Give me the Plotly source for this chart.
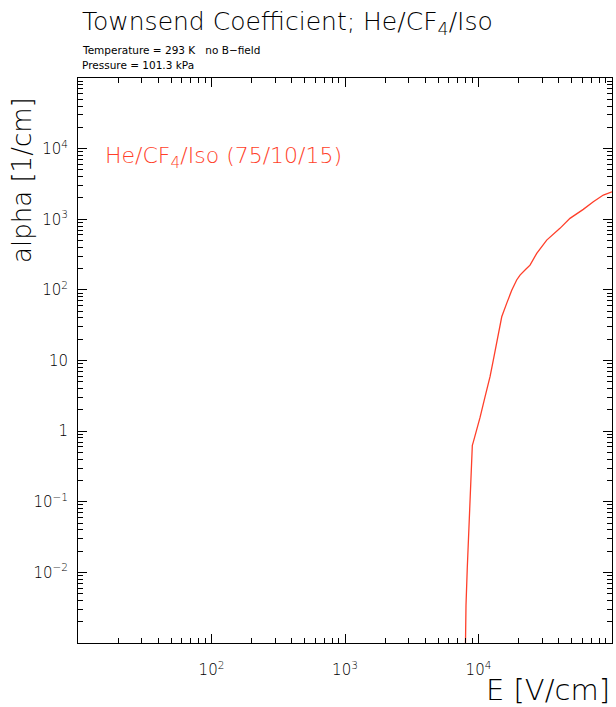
import plotly.graph_objects as go

# Curve data
E_field = [7900, 8060, 8240, 8490, 8740, 8890, 8990, 9140, 9700, 10260, 11190, 12200,
           12910, 13680, 14320, 14930, 16260, 17740, 19320, 20470, 22700, 24320, 27300,
           32430, 40740, 48440, 60950, 72440, 86100, 100000]
alpha = [0.0002, 0.00343, 0.0115, 0.0423, 0.132, 0.30, 0.63, 0.70, 1.03, 1.55, 3.06, 5.9,
         10.1, 17.5, 30, 41.6, 64.4, 99, 138, 162, 197, 224, 329,
         507, 743, 1030, 1380, 1770, 2200, 2450]

x_tickvals = [100, 1000, 10000]
x_ticktext = ["10<sup>2</sup>", "10<sup>3</sup>", "10<sup>4</sup>"]
y_tickvals = [0.01, 0.1, 1, 10, 100, 1000, 10000]
y_ticktext = ["10<sup>\u22122</sup>", "10<sup>\u22121</sup>", "1", "10",
              "10<sup>2</sup>", "10<sup>3</sup>", "10<sup>4</sup>"]

title_text = "Townsend Coefficient; He/CF<sub>4</sub>/Iso"
sub1 = "Temperature = 293 K   no B\u2212field"
sub2 = "Pressure = 101.3 kPa"
series_label = "He/CF<sub>4</sub>/Iso (75/10/15)"

RED = "#ff3f2a"
FONT = "DejaVu Sans"
W = 200

def minor_vals(lo_exp, hi_exp):
    vals = []
    for e in range(lo_exp, hi_exp):
        for m in range(2, 10):
            vals.append(m * 10 ** e)
    return vals

fig = go.Figure()
fig.add_trace(go.Scatter(x=E_field, y=alpha, mode="lines",
                         line=dict(color=RED, width=1.3), showlegend=False))

axis_common = dict(type="log", showgrid=False, zeroline=False, showline=True,
                   linecolor="black", linewidth=1, mirror="allticks",
                   ticks="inside", ticklen=9, tickwidth=1, tickcolor="black",
                   tickfont=dict(family=FONT, size=15, color="black", weight=W))

fig.update_xaxes(range=[1, 5], tickmode="array", tickvals=x_tickvals, ticktext=x_ticktext,
                 ticklabelstandoff=13,
                 minor=dict(tickmode="array", tickvals=minor_vals(1, 5), ticks="inside",
                            ticklen=5, tickwidth=1, tickcolor="black"),
                 **axis_common)
fig.update_yaxes(range=[-3, 5], tickmode="array", tickvals=y_tickvals, ticktext=y_ticktext,
                 ticklabelstandoff=6,
                 minor=dict(tickmode="array", tickvals=minor_vals(-3, 5), ticks="inside",
                            ticklen=5, tickwidth=1, tickcolor="black"),
                 **axis_common)

ann = [
    dict(text=title_text, x=0.004, y=1.097, xanchor="left", yanchor="middle",
         font=dict(family=FONT, size=25, color="black", weight=W)),
    dict(text=sub1, x=0.004, y=1.0496, xanchor="left", yanchor="middle",
         font=dict(family=FONT, size=10.5, color="black", weight=400)),
    dict(text=sub2, x=0.004, y=1.023, xanchor="left", yanchor="middle",
         font=dict(family=FONT, size=10.5, color="black", weight=400)),
    dict(text="alpha [1/cm]", x=-0.105, y=0.97, xanchor="center", yanchor="top",
         textangle=-90, font=dict(family=FONT, size=26, color="black", weight=W)),
    dict(text="E [V/cm]", x=1.0, y=-0.083, xanchor="right", yanchor="middle",
         font=dict(family=FONT, size=29, color="black", weight=W)),
    dict(text=series_label, x=0.047, y=0.860, xanchor="left", yanchor="middle",
         font=dict(family=FONT, size=22, color=RED, weight=W)),
]
for a in ann:
    a.update(xref="paper", yref="paper", showarrow=False)

fig.update_layout(width=616, height=707, margin=dict(l=78, r=4, t=78, b=64),
                  paper_bgcolor="white", plot_bgcolor="white", annotations=ann,
                  font=dict(family=FONT))

fig.write_html("out.html")
